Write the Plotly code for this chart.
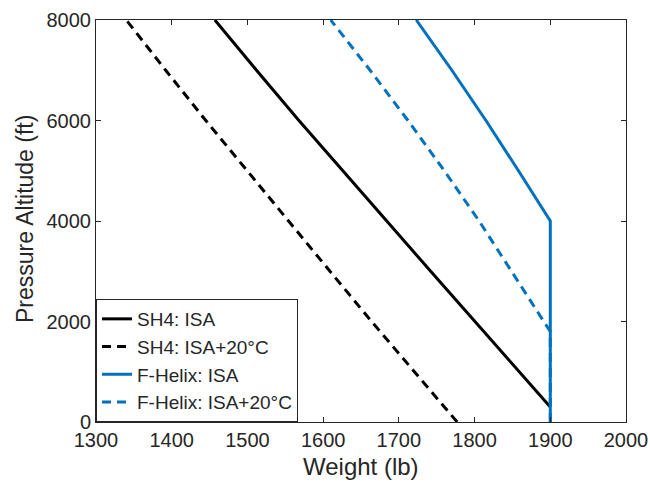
import plotly.graph_objects as go

# ---- data ----
sh4_isa_w = [1900, 1800, 1742, 1684, 1626, 1568, 1512, 1457]
sh4_isa_alt = [300, 2000, 3000, 4000, 5000, 6000, 7000, 8000]

sh4_hot_w = [1777, 1720, 1664, 1609, 1554, 1499, 1445, 1392, 1340]
sh4_hot_alt = [0, 1000, 2000, 3000, 4000, 5000, 6000, 7000, 8000]

fh_isa_w = [1900, 1900, 1858, 1815, 1770, 1723]
fh_isa_alt = [0, 4000, 5000, 6000, 7000, 8000]

fh_hot_w = [1900, 1900, 1806, 1760, 1712, 1662, 1610]
fh_hot_alt = [0, 1800, 4000, 5000, 6000, 7000, 8000]

names = ["SH4: ISA", "SH4: ISA+20°C", "F-Helix: ISA", "F-Helix: ISA+20°C"]

x_ticks = [1300, 1400, 1500, 1600, 1700, 1800, 1900, 2000]
y_ticks = [0, 2000, 4000, 6000, 8000]

x_title = "Weight (lb)"
y_title = "Pressure Altitude (ft)"

BLACK = "#000000"
BLUE = "#0072BD"
AX = "#262626"
FONT = "Liberation Sans, Arial, Helvetica, sans-serif"

fig = go.Figure()
series = [
    (sh4_isa_w, sh4_isa_alt, BLACK, "solid"),
    (sh4_hot_w, sh4_hot_alt, BLACK, "9px,6px"),
    (fh_isa_w, fh_isa_alt, BLUE, "solid"),
    (fh_hot_w, fh_hot_alt, BLUE, "9px,6px"),
]
# draw dashed blue under the solid blue so the vertical overlap looks solid
order = [0, 1, 3, 2]
for i in order:
    xw, ya, col, dash = series[i]
    fig.add_trace(go.Scatter(
        x=xw, y=ya, mode="lines", name=names[i],
        line=dict(color=col, width=3, dash=dash),
        legendrank=i + 1,
    ))

axis_common = dict(
    showgrid=False, zeroline=False, showline=True, linecolor=AX, linewidth=1,
    mirror="ticks", ticks="inside", ticklen=5, tickcolor=AX, tickwidth=1,
    tickfont=dict(family=FONT, size=20, color=AX), automargin=False,
)

fig.update_xaxes(
    range=[1300, 2000], tickvals=x_ticks, ticktext=[str(v) for v in x_ticks],
    **axis_common,
)
fig.update_yaxes(
    range=[0, 8000], tickvals=y_ticks, ticktext=[str(v) for v in y_ticks],
    **axis_common,
)

fig.add_annotation(
    text=x_title, xref="paper", yref="paper", x=0.5, y=-0.11,
    xanchor="center", yanchor="middle", showarrow=False,
    font=dict(family=FONT, size=24, color=AX),
)
fig.add_annotation(
    text=y_title, xref="paper", yref="paper", x=-0.134, y=0.505,
    xanchor="center", yanchor="middle", showarrow=False, textangle=-90,
    font=dict(family=FONT, size=23, color=AX),
)

fig.update_layout(
    width=650, height=493,
    margin=dict(l=96, r=24, t=20, b=71),
    plot_bgcolor="white", paper_bgcolor="white",
    font=dict(family=FONT, color=AX),
    legend=dict(
        x=0, y=0, xanchor="left", yanchor="bottom",
        bgcolor="white", bordercolor=AX, borderwidth=1,
        font=dict(family=FONT, size=19, color=AX),
        tracegroupgap=0, itemwidth=30,
    ),
    showlegend=True,
)

fig.write_html(
    "out.html",
    config={"displayModeBar": False},
    post_script="document.body.style.margin='0';document.body.style.overflow='hidden';",
)
